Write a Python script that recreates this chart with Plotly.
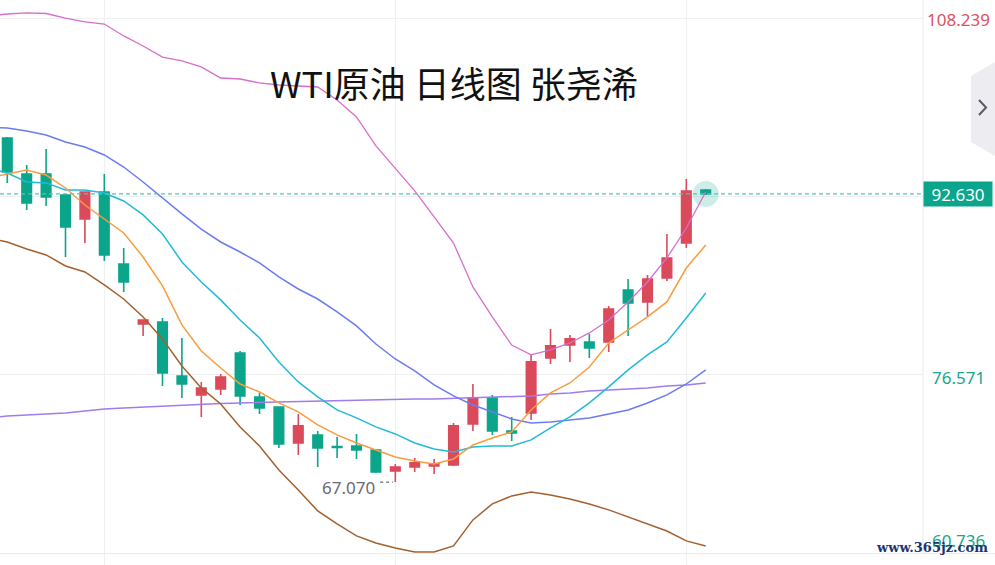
import plotly.graph_objects as go

# ---------------- data (prices) ----------------
candle_idx = list(range(37))
opens  = [97.60, 94.40, 94.40, 92.54, 90.41, 92.81, 86.42, 81.10, 81.27, 76.48,
          74.80, 75.33, 78.52, 74.62, 73.73, 70.54, 71.25, 70.23, 70.27, 69.92,
          68.06, 68.41, 68.50, 68.59, 72.23, 74.53, 71.60, 73.20, 78.08, 79.23,
          79.50, 79.50, 84.11, 83.05, 85.18, 88.28, 92.98]
highs  = [97.69, 95.20, 96.62, 92.63, 92.85, 94.40, 87.84, 81.47, 81.63, 79.85,
          75.95, 76.66, 78.70, 74.98, 73.75, 73.11, 71.60, 71.07, 71.34, 69.95,
          68.68, 69.21, 69.12, 72.31, 75.77, 74.80, 72.85, 78.35, 80.65, 80.12,
          80.21, 82.69, 85.09, 85.44, 89.08, 93.96, 93.07]
lows   = [93.61, 91.21, 91.57, 87.04, 88.28, 86.69, 83.94, 80.03, 75.60, 74.53,
          72.85, 74.80, 73.91, 73.11, 70.10, 69.48, 68.41, 69.21, 69.12, 67.88,
          67.07, 67.97, 67.79, 68.50, 71.60, 71.25, 70.72, 72.58, 77.55, 77.73,
          78.08, 78.61, 80.03, 81.81, 84.91, 87.84, 92.54]
closes = [94.58, 91.83, 92.36, 89.70, 92.81, 87.22, 84.82, 81.45, 76.75, 75.77,
          75.42, 76.39, 74.71, 73.64, 70.45, 72.05, 70.10, 70.14, 69.92, 67.97,
          68.41, 68.77, 68.68, 72.05, 74.53, 71.60, 71.43, 77.73, 79.15, 79.77,
          78.97, 82.43, 82.96, 85.09, 86.95, 92.90, 92.63]

line_idx = list(range(-1, 37))
boll_upper = [108.42, 108.60, 108.69, 108.64, 108.24, 107.89, 107.71, 106.65, 105.76, 104.78,
              104.43, 103.90, 102.92, 102.83, 102.48, 102.30, 102.21, 102.12, 100.97, 99.46,
              96.89, 94.94, 92.90, 90.59, 88.28, 84.38, 81.72, 79.23, 78.35, 78.79,
              79.41, 80.30, 81.45, 83.05, 84.82, 86.95, 89.61, 92.81]
boll_mid   = [98.57, 98.48, 98.22, 97.86, 97.24, 96.80, 96.09, 95.02, 93.69, 92.27,
              90.86, 89.52, 88.37, 87.48, 86.51, 85.27, 84.20, 83.31, 82.16, 80.92,
              79.32, 77.99, 76.93, 75.69, 74.71, 73.91, 73.29, 72.67, 72.31, 72.40,
              72.58, 72.76, 73.11, 73.47, 74.09, 74.80, 75.77, 77.02]
boll_lower = [88.73, 88.37, 87.75, 87.22, 86.24, 85.71, 84.56, 83.31, 81.72, 79.77,
              77.37, 75.42, 74.00, 71.96, 70.27, 68.14, 66.37, 64.51, 63.35, 62.29,
              61.67, 61.22, 60.87, 60.87, 61.40, 63.71, 65.13, 65.84, 66.19, 65.93,
              65.57, 65.13, 64.60, 63.97, 63.35, 62.73, 61.85, 61.40]
ma5  = [94.05, 94.40, 94.76, 94.31, 93.16, 91.65, 90.41, 89.17, 87.04, 84.47,
        81.01, 78.70, 77.19, 75.77, 75.06, 74.09, 73.29, 72.14, 71.25, 70.54,
        69.92, 69.30, 68.94, 68.68, 69.12, 70.36, 70.98, 71.52, 73.47, 74.98,
        75.86, 77.28, 79.41, 80.56, 81.72, 83.05, 86.06, 88.11]
ma10 = [94.94, 94.49, 93.69, 93.61, 92.98, 92.98, 92.72, 92.01, 90.77, 89.08,
        86.60, 84.82, 83.23, 81.45, 79.85, 77.73, 75.95, 74.62, 73.47, 72.76,
        71.96, 71.34, 70.54, 70.01, 69.74, 70.18, 70.27, 70.27, 70.81, 71.87,
        72.85, 74.09, 75.51, 77.02, 78.35, 79.50, 81.63, 83.85]
ma60 = [72.76, 72.94, 73.02, 73.11, 73.20, 73.38, 73.56, 73.64, 73.73, 73.82,
        73.91, 74.00, 74.04, 74.09, 74.13, 74.18, 74.22, 74.27, 74.31, 74.35,
        74.35, 74.40, 74.44, 74.44, 74.49, 74.53, 74.58, 74.62, 74.71, 74.89,
        74.98, 75.15, 75.24, 75.33, 75.42, 75.60, 75.69, 75.86]

price_ticks = [60.736, 76.571, 92.406, 108.239]
last_price = 92.630
low_price = 67.070
low_index = 20
grid_index = [5, 20, 35]
title = "WTI原油 日线图 张尧浠"
watermark = "www.365jz.com"

# ---------------- styling ----------------
RED = "#DB4A5B"
GREEN = "#0BA58B"
GRID = "#EEF0F4"
XR = [-0.376, 47.2]
YR = [59.71, 109.84]
DOM = 923 / 995

fig = go.Figure()

# glow behind last candle
fig.add_trace(go.Scatter(x=[candle_idx[-1]], y=[last_price], mode="markers",
                         marker=dict(size=26, color="rgba(11,165,139,0.20)", line=dict(width=0)),
                         hoverinfo="skip", showlegend=False))

fig.add_trace(go.Candlestick(
    x=candle_idx, open=opens, high=highs, low=lows, close=closes,
    increasing=dict(line=dict(color=RED, width=1.6), fillcolor=RED),
    decreasing=dict(line=dict(color=GREEN, width=1.6), fillcolor=GREEN),
    whiskerwidth=0, hoverinfo="skip", showlegend=False))

for vals, col, w in [(ma60, "#A07CEB", 1.5), (boll_lower, "#A3602F", 1.5),
                     (boll_mid, "#6B7BF2", 1.5), (ma10, "#22BAD8", 1.5),
                     (ma5, "#F89D3F", 1.5), (boll_upper, "#D66FCB", 1.3)]:
    fig.add_trace(go.Scatter(x=line_idx, y=vals, mode="lines",
                             line=dict(color=col, width=w),
                             hoverinfo="skip", showlegend=False))

shapes = [
    dict(type="line", xref="paper", yref="y", x0=0, x1=DOM, y0=last_price, y1=last_price,
         line=dict(color="#4CC9B0", width=1.2, dash="4px,3px")),
    dict(type="line", xref="paper", yref="y", x0=DOM, x1=DOM, y0=price_ticks[0], y1=YR[1],
         line=dict(color="#E8E9EE", width=1)),
    dict(type="line", xref="paper", yref="y", x0=0, x1=1, y0=price_ticks[0], y1=price_ticks[0],
         line=dict(color="#E8E9EE", width=1)),
    dict(type="line", xref="x", yref="y", x0=low_index - 0.78, x1=low_index - 0.12,
         y0=low_price, y1=low_price, line=dict(color="#666670", width=1.2, dash="dot")),
    dict(type="path", xref="paper", yref="paper",
         path="M 1,0.8903 L 0.9759,0.8655 L 0.9759,0.7487 L 1,0.7239 Z",
         fillcolor="#EDEDF1", line=dict(width=0)),
    dict(type="path", xref="paper", yref="paper",
         path="M 0.9839,0.8230 L 0.9910,0.8097 L 0.9839,0.7965",
         line=dict(color="#5A5A66", width=2)),
]

num_font = "Noto Sans, Open Sans, sans-serif"
annotations = [
    dict(text=title, x=454 / 995, y=1 - 82 / 565, xref="paper", yref="paper",
         showarrow=False, xanchor="center", yanchor="middle",
         font=dict(family="Noto Sans CJK SC", size=36, color="#111111")),
    dict(text=f"{price_ticks[3]:.3f}", x=(DOM + 1) / 2, y=price_ticks[3], xref="paper", yref="y",
         showarrow=False, xanchor="center", yanchor="middle", yshift=-1,
         font=dict(family=num_font, size=17, color="#E0505F")),
    dict(text=f"{price_ticks[1]:.3f}", x=(DOM + 1) / 2, y=price_ticks[1], xref="paper", yref="y",
         showarrow=False, xanchor="center", yanchor="middle", yshift=-3,
         font=dict(family=num_font, size=17, color="#1AA58B")),
    dict(text=f"{price_ticks[0]:.3f}", x=(DOM + 1) / 2, y=price_ticks[0], xref="paper", yref="y",
         showarrow=False, xanchor="center", yanchor="middle", yshift=13,
         font=dict(family=num_font, size=17, color="#1AA58B")),
    dict(text=f"{last_price:.3f}", x=DOM, y=last_price, xref="paper", yref="y",
         showarrow=False, xanchor="left", yanchor="middle", width=64, height=20,
         bgcolor=GREEN, borderpad=2,
         font=dict(family=num_font, size=17, color="#FFFFFF")),
    dict(text=f"{low_price:.3f}", x=low_index, y=low_price, xref="x", yref="y",
         showarrow=False, xanchor="right", yanchor="middle", xshift=-18, yshift=-5,
         font=dict(family=num_font, size=17, color="#6A6A74")),
    dict(text=watermark, x=990 / 995, y=1 - 547 / 565, xref="paper", yref="paper",
         showarrow=False, xanchor="right", yanchor="middle",
         font=dict(family="DejaVu Serif", size=13, color="#1A3570", weight="bold")),
]

fig.update_layout(
    width=995, height=565, margin=dict(l=0, r=0, t=0, b=0),
    paper_bgcolor="white", plot_bgcolor="white",
    shapes=shapes, annotations=annotations, showlegend=False,
    xaxis=dict(domain=[0, DOM], range=XR, tickvals=grid_index, showticklabels=False,
               showgrid=True, gridcolor=GRID, zeroline=False, showline=False,
               rangeslider=dict(visible=False), fixedrange=True),
    yaxis=dict(range=YR, tickvals=price_ticks, showticklabels=False, showgrid=True,
               gridcolor=GRID, zeroline=False, showline=False, fixedrange=True),
)

fig.write_html("out.html", config={"displayModeBar": False},
               post_script="document.body.style.margin='0';document.body.style.overflow='hidden';")
